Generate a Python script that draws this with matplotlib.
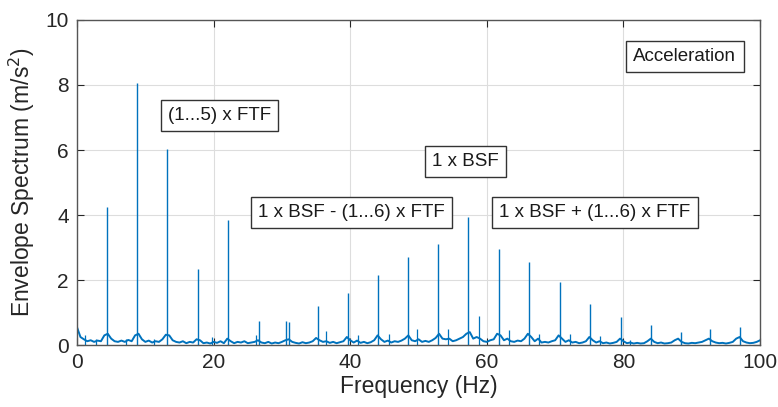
import numpy as np
import matplotlib
matplotlib.use('Agg')
from matplotlib import pyplot as plt

plt.rcParams['font.family'] = ['Liberation Sans', 'DejaVu Sans']

# noise floor of the envelope spectrum, read every 0.5 Hz
floor_freq = np.arange(0, 100.5, 0.5)
floor_amp = [
    0.55, 0.25, 0.18, 0.12, 0.15, 0.10, 0.14, 0.12, 0.30, 0.35,
    0.20, 0.12, 0.10, 0.14, 0.10, 0.16, 0.12, 0.30, 0.35, 0.18,
    0.10, 0.14, 0.08, 0.12, 0.10, 0.18, 0.32, 0.30, 0.15, 0.10,
    0.08, 0.12, 0.06, 0.10, 0.08, 0.18, 0.15, 0.06, 0.08, 0.05,
    0.10, 0.07, 0.12, 0.06, 0.20, 0.12, 0.06, 0.10, 0.08, 0.12,
    0.06, 0.08, 0.10, 0.15, 0.08, 0.06, 0.10, 0.05, 0.08, 0.06,
    0.10, 0.15, 0.18, 0.10, 0.07, 0.05, 0.09, 0.06, 0.08, 0.12,
    0.22, 0.15, 0.10, 0.12, 0.07, 0.10, 0.06, 0.09, 0.12, 0.25,
    0.15, 0.08, 0.14, 0.07, 0.10, 0.06, 0.09, 0.15, 0.30, 0.18,
    0.10, 0.14, 0.08, 0.12, 0.10, 0.14, 0.20, 0.30, 0.15, 0.12,
    0.18, 0.10, 0.13, 0.10, 0.15, 0.22, 0.35, 0.20, 0.18, 0.20,
    0.12, 0.15, 0.20, 0.25, 0.35, 0.40, 0.20, 0.25, 0.20, 0.12,
    0.10, 0.15, 0.18, 0.35, 0.30, 0.15, 0.20, 0.12, 0.10, 0.14,
    0.12, 0.20, 0.35, 0.25, 0.12, 0.20, 0.08, 0.10, 0.08, 0.12,
    0.15, 0.30, 0.20, 0.10, 0.15, 0.08, 0.10, 0.06, 0.08, 0.12,
    0.25, 0.15, 0.08, 0.12, 0.06, 0.08, 0.05, 0.07, 0.10, 0.20,
    0.12, 0.06, 0.08, 0.05, 0.07, 0.05, 0.06, 0.12, 0.20, 0.10,
    0.06, 0.08, 0.05, 0.06, 0.08, 0.15, 0.20, 0.10, 0.06, 0.05,
    0.07, 0.06, 0.08, 0.10, 0.15, 0.20, 0.12, 0.08, 0.06, 0.07,
    0.05, 0.07, 0.10, 0.20, 0.25, 0.12, 0.08, 0.06, 0.07, 0.10,
    0.15,
]

# spectral lines (FTF harmonics, BSF and sidebands)
peak_freq = [4.4, 8.8, 13.2, 17.7, 22.1, 26.6, 30.6, 31.1, 35.3, 39.6,
             44.0, 48.4, 52.9, 57.3, 61.8, 66.2, 70.7, 75.1, 79.6, 84.0,
             88.4, 92.6, 97.0]
peak_amp = [4.25, 8.05, 6.02, 2.35, 3.85, 0.74, 0.75, 0.70, 1.20, 1.60,
            2.15, 2.70, 3.10, 3.95, 2.95, 2.55, 1.95, 1.25, 0.85, 0.62,
            0.40, 0.50, 0.55]

# small side lines
side_freq = [1.2, 2.8, 7.2, 11.3, 19.8, 26.2, 36.4, 41.1, 45.6, 49.8,
             54.3, 58.8, 63.2, 67.6, 72.1, 76.6, 81.0]
side_amp = [0.30, 0.20, 0.20, 0.20, 0.25, 0.30, 0.45, 0.30, 0.35, 0.50,
            0.50, 0.90, 0.48, 0.35, 0.35, 0.28, 0.15]

xticks = [0, 20, 40, 60, 80, 100]
yticks = [0, 2, 4, 6, 8, 10]

labels = ['(1...5) x FTF', '1 x BSF', '1 x BSF - (1...6) x FTF',
          '1 x BSF + (1...6) x FTF', 'Acceleration']
label_x = [20.9, 56.8, 40.2, 75.8, 89.0]
label_y = [7.05, 5.65, 4.08, 4.08, 8.88]

blue = '#0072BD'
fig = plt.figure(figsize=(7.78, 4.07), dpi=100)
ax = fig.add_axes([0.099, 0.152, 0.878, 0.799])

ax.plot(floor_freq, floor_amp, color=blue, lw=1.4)
ax.vlines(peak_freq, 0, peak_amp, color=blue, lw=1.0)
ax.vlines(side_freq, 0, side_amp, color=blue, lw=0.9)

ax.set_xlim(0, 100)
ax.set_ylim(0, 10)
ax.set_xticks(xticks)
ax.set_yticks(yticks)
ax.grid(True, color='#dddddd', lw=0.8)
ax.set_axisbelow(True)
ax.tick_params(direction='in', top=True, right=True, labelsize=15,
               colors='#262626', length=5, pad=6)
for s in ax.spines.values():
    s.set_color('#555555')
    s.set_linewidth(1.0)

ax.set_xlabel('Frequency (Hz)', fontsize=16.5, color='#262626', labelpad=2)
ax.set_ylabel('Envelope Spectrum (m/s$^2$)', fontsize=16.5, color='#262626', labelpad=6)

for t, x, y in zip(labels, label_x, label_y):
    ax.text(x, y, t, ha='center', va='center', fontsize=13.5, color='#1a1a1a',
            bbox=dict(boxstyle='square,pad=0.38', fc='white', ec='#333333', lw=1.0))

fig.savefig('out.png', dpi=100)
